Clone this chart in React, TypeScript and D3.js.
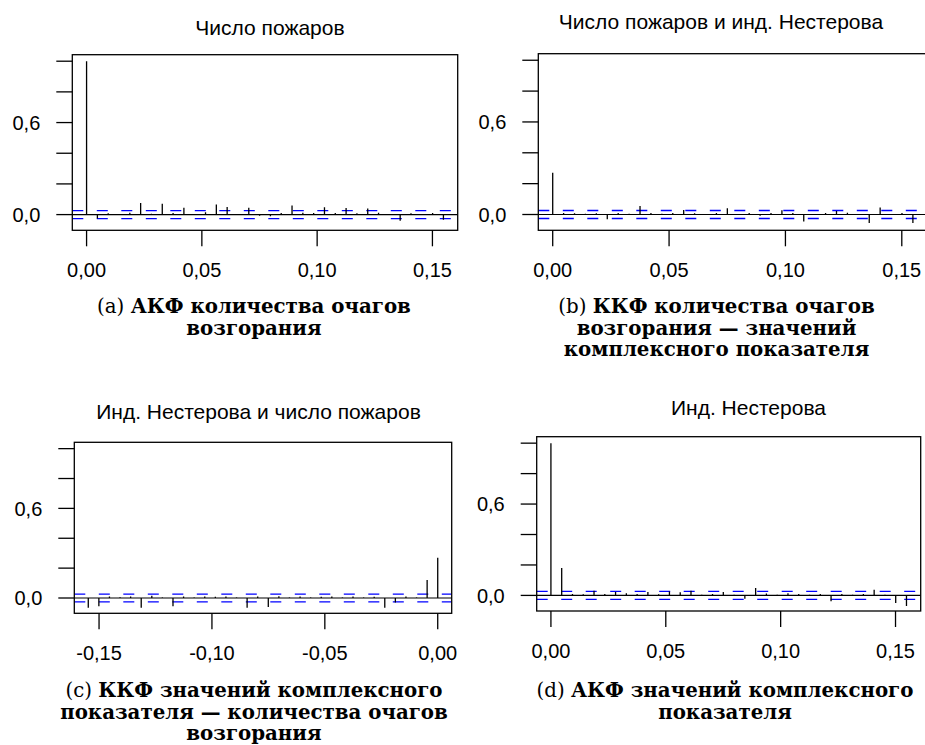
import React from 'react'
import * as d3 from 'd3'

// lag step in years (series frequency ~213), lags 0..33
const LAG_STEP = 0.00469
const lagIndex = d3.range(34)

// ACF / CCF values, lag 0 .. 33
const acfFires = [1, -0.025, 0.008, 0.004, 0.012, 0.075, 0.006, 0.07, 0.01, 0.045, 0.004, 0.015, 0.065, 0.05, 0.004, 0.045, -0.008, -0.01, 0.01, 0.06, 0.012, 0.01, 0.048, 0.01, 0.043, 0.008, 0.04, 0.012, 0.004, -0.04, 0.008, 0.004, 0.01, -0.033]
const ccfFiresNest = [0.27, 0.01, 0.008, 0.005, 0.008, -0.03, 0.01, 0.005, 0.055, 0.01, 0.005, 0.01, 0.03, 0.008, 0.004, 0.01, 0.04, 0.004, 0.01, -0.008, 0.01, 0.028, 0.01, -0.045, 0.004, 0.01, 0.022, 0.012, 0.004, -0.055, 0.045, 0.004, 0.01, -0.055]
// lag 0 .. -33
const ccfNestFires = [0.27, 0.12, 0.004, 0.01, -0.03, -0.065, 0.008, 0.004, 0.01, 0.004, 0.01, 0.008, 0.004, 0.01, 0.004, 0.012, -0.06, 0.01, -0.065, 0.004, 0.01, 0.008, 0.01, 0.004, 0.01, -0.055, 0.004, 0.015, -0.065, 0.01, 0.005, 0.01, -0.055, -0.065]
const acfNest = [1, 0.18, 0.01, 0.008, 0.03, 0.01, 0.022, 0.015, 0.01, 0.022, 0.008, 0.025, 0.02, 0.03, 0.005, 0.01, 0.022, 0.005, -0.022, 0.048, 0.012, 0.005, 0.015, 0.01, 0.004, 0.01, -0.038, 0.01, 0.004, 0.01, 0.037, 0.004, -0.05, -0.07]

const CI = 0.026
const yTicks = [0, 0.2, 0.4, 0.6, 0.8, 1.0]
const yLabelled = [0, 0.6]
const xTicksPos = [0, 0.05, 0.1, 0.15]
const xTicksNeg = [-0.15, -0.1, -0.05, 0]
const yLim: [number, number] = [-0.06, 1]

const fmt = (v: number) => d3.format('.2f')(v).replace('.', ',').replace('−', '-')
const fmtY = (v: number) => d3.format('.1f')(v).replace('.', ',')

const panels = [
  {
    title: 'Число пожаров', values: acfFires, sign: 1, ticks: xTicksPos,
    box: [72.3, 457.7, 54.7, 230.3], titleX: 270, titleY: 35,
    capX: 254, capY: 313, cap: [['(a) ', 'АКФ количества очагов'], ['', 'возгорания']],
  },
  {
    title: 'Число пожаров и инд. Нестерова', values: ccfFiresNest, sign: 1, ticks: xTicksPos,
    box: [538.3, 927.3, 53.7, 230.3], titleX: 721, titleY: 29,
    capX: 716.5, capY: 313, cap: [['(b) ', 'ККФ количества очагов'], ['', 'возгорания — значений'], ['', 'комплексного показателя']],
  },
  {
    title: 'Инд. Нестерова и число пожаров', values: ccfNestFires, sign: -1, ticks: xTicksNeg,
    box: [74.3, 451.7, 442.3, 613.3], titleX: 258.5, titleY: 419,
    capX: 254, capY: 697, cap: [['(c) ', 'ККФ значений комплексного'], ['', 'показателя — количества очагов'], ['', 'возгорания']],
  },
  {
    title: 'Инд. Нестерова', values: acfNest, sign: 1, ticks: xTicksPos,
    box: [536.7, 920.7, 436.7, 611], titleX: 748.5, titleY: 415,
    capX: 725, capY: 697, cap: [['(d) ', 'АКФ значений комплексного'], ['', 'показателя']],
  },
]

const AXIS_FONT = '"Liberation Sans", Arial, Helvetica, sans-serif'
const CAP_FONT = '"DejaVu Serif", serif'

const Panel = ({ p }: { p: typeof panels[number] }) => {
  const [x0, x1, y0, y1] = p.box
  const maxLag = (lagIndex.length - 1) * LAG_STEP
  const xDom = p.sign > 0 ? [0, maxLag] : [-maxLag, 0]
  const xPad = (xDom[1] - xDom[0]) * 0.04
  const yPad = (yLim[1] - yLim[0]) * 0.04
  const x = d3.scaleLinear().domain([xDom[0] - xPad, xDom[1] + xPad]).range([x0, x1])
  const y = d3.scaleLinear().domain([yLim[0] - yPad, yLim[1] + yPad]).range([y1, y0])
  const clipId = `clip-${p.title.length}-${Math.round(x0)}`

  return (
    <g>
      <defs>
        <clipPath id={clipId}>
          <rect x={x0} y={y0} width={x1 - x0} height={y1 - y0} />
        </clipPath>
      </defs>
      <text x={p.titleX} y={p.titleY} textAnchor="middle" fontFamily={AXIS_FONT} fontSize={21}>{p.title}</text>
      <g clipPath={`url(#${clipId})`}>
        <line x1={x0} x2={x1} y1={y(0)} y2={y(0)} stroke="#000" strokeWidth={1.2} />
        {[CI, -CI].map(c => (
          <line key={c} x1={x0} x2={x1} y1={y(c)} y2={y(c)} stroke="#0000ff" strokeWidth={1.3} strokeDasharray="11 13.5" />
        ))}
        {p.values.map((v, i) => {
          const lx = x(p.sign * lagIndex[i] * LAG_STEP)
          return <line key={i} x1={lx} x2={lx} y1={y(0)} y2={y(v)} stroke="#000" strokeWidth={1.3} />
        })}
      </g>
      <rect x={x0} y={y0} width={x1 - x0} height={y1 - y0} fill="none" stroke="#000" strokeWidth={1.3} />
      {yTicks.map(t => (
        <g key={t}>
          <line x1={x0 - 16} x2={x0} y1={y(t)} y2={y(t)} stroke="#000" strokeWidth={1.3} />
          {yLabelled.includes(t) && (
            <text x={x0 - 32} y={y(t)} dy="0.36em" textAnchor="end" fontFamily={AXIS_FONT} fontSize={20}>{fmtY(t)}</text>
          )}
        </g>
      ))}
      {p.ticks.map(t => (
        <g key={t}>
          <line x1={x(t)} x2={x(t)} y1={y1} y2={y1 + 16} stroke="#000" strokeWidth={1.3} />
          <text x={x(t)} y={y1 + 47} textAnchor="middle" fontFamily={AXIS_FONT} fontSize={20}>{fmt(t)}</text>
        </g>
      ))}
      {p.cap.map((line, i) => (
        <text key={i} x={p.capX} y={p.capY + i * 21.7} textAnchor="middle" fontFamily={CAP_FONT} fontSize={19.8}>
          {line[0] && <tspan>{line[0]}</tspan>}
          <tspan fontWeight="bold">{line[1]}</tspan>
        </text>
      ))}
    </g>
  )
}

const App = () => (
  <svg width={925} height={745} style={{ position: 'absolute', left: 0, top: 0, background: '#fff' }}>
    <rect width={925} height={745} fill="#fff" />
    {panels.map(p => <Panel key={p.title} p={p} />)}
  </svg>
)

export default App
